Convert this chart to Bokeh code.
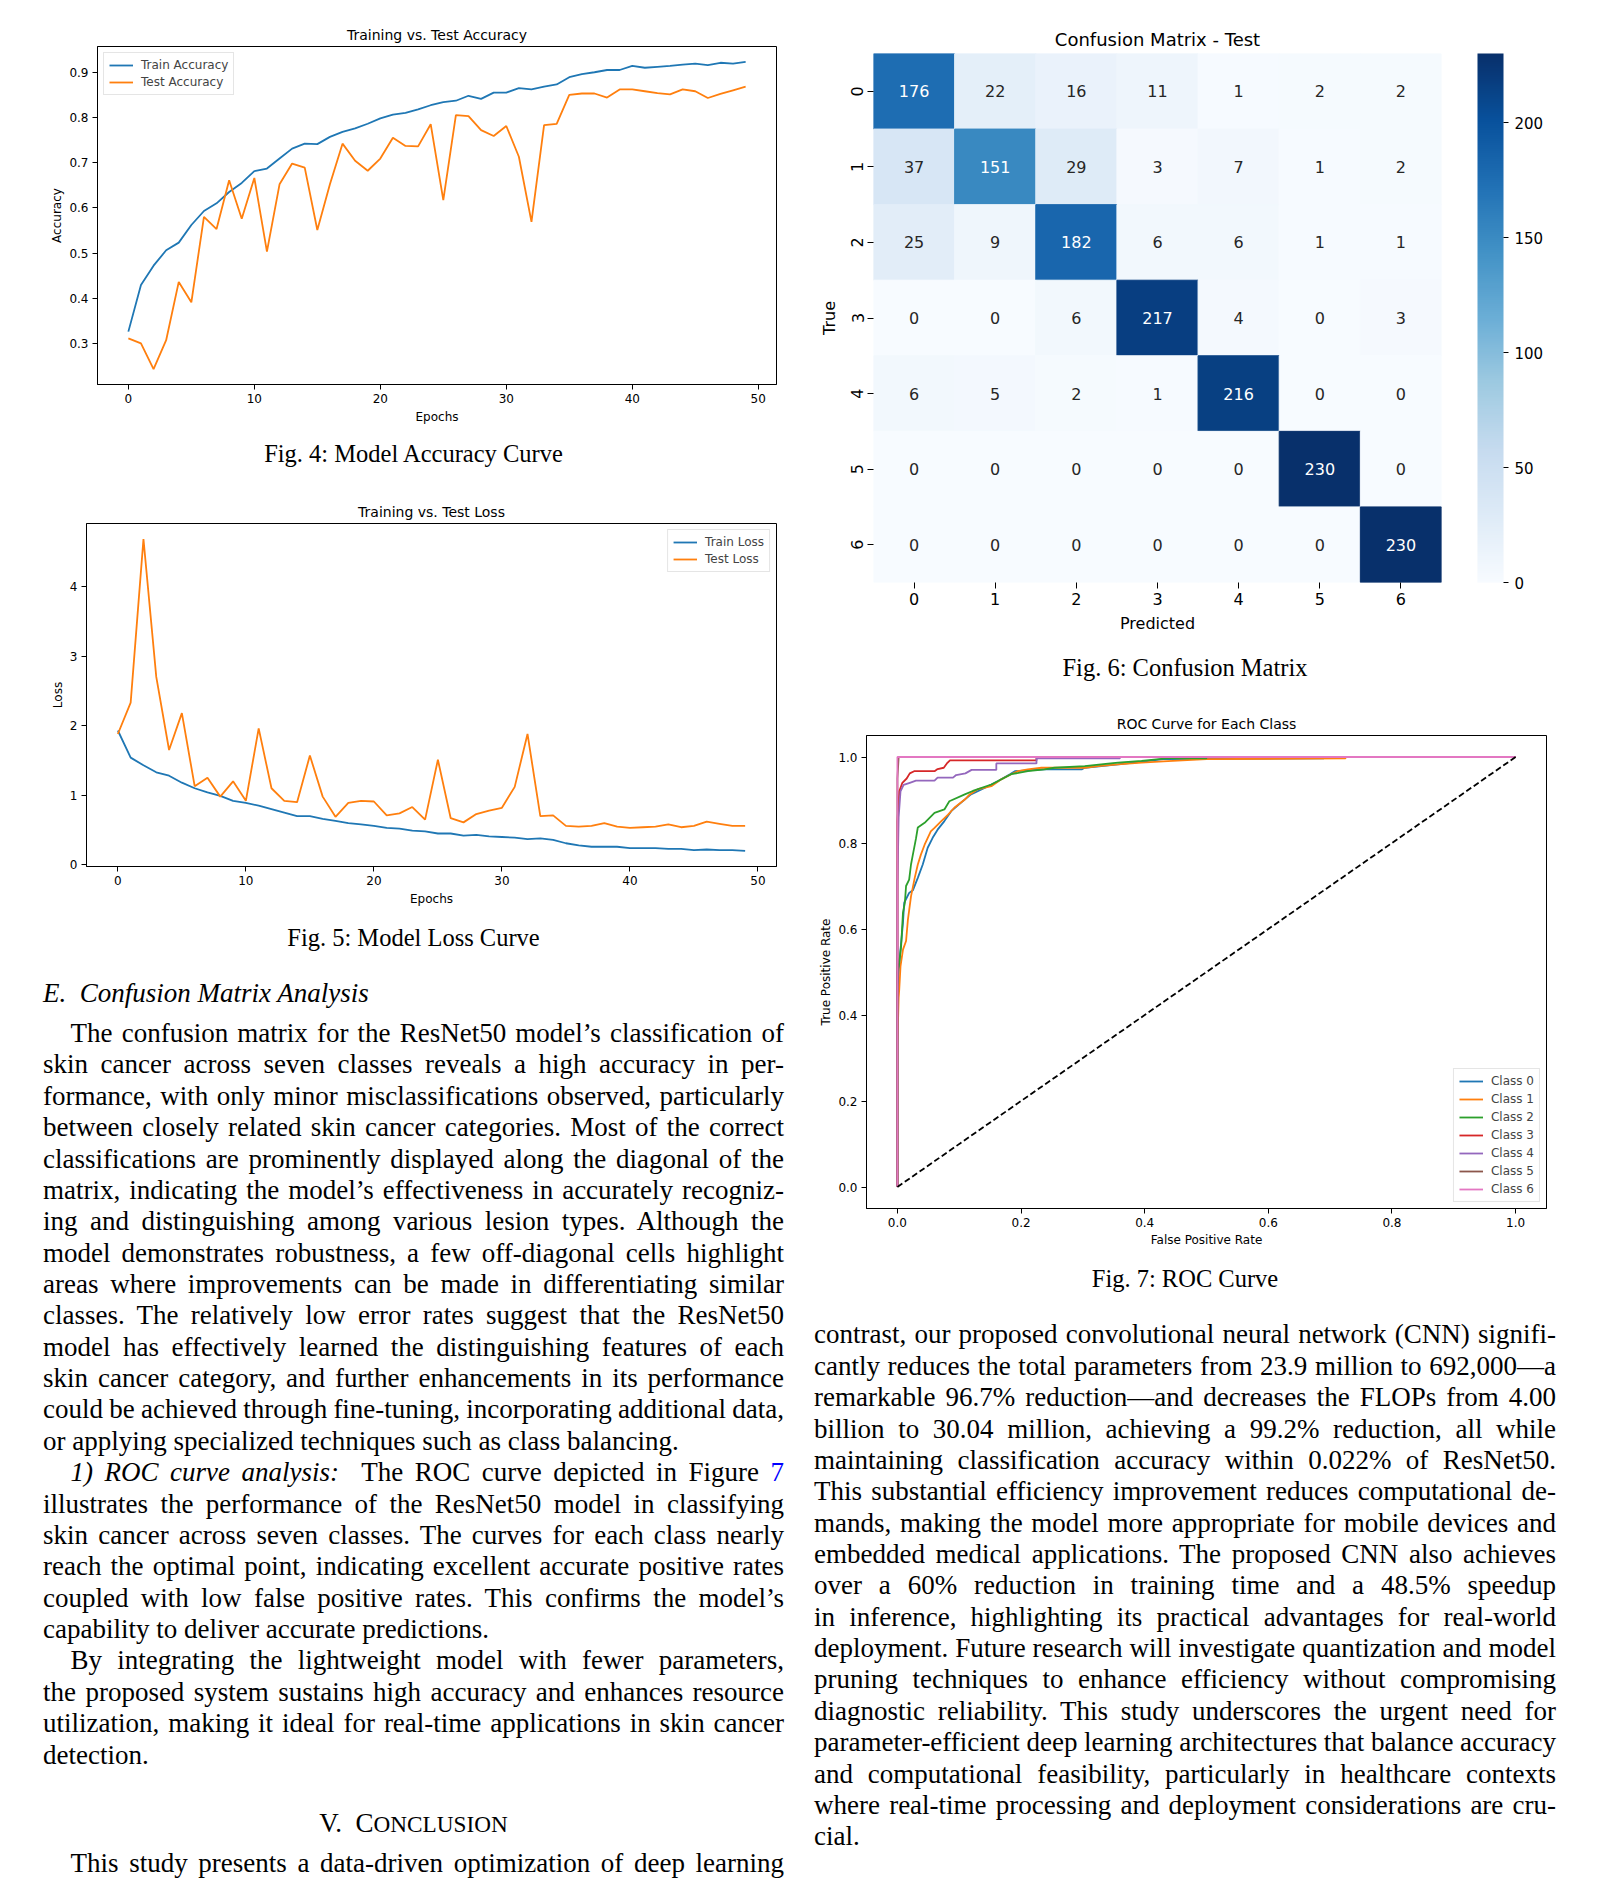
from bokeh.plotting import figure
from bokeh.models import (ColumnDataSource, Range1d, FactorRange, FixedTicker,
                          LinearColorMapper, ColorBar, Div)
from bokeh.layouts import row, column
from bokeh.palettes import Blues256
from bokeh.core.properties import value
from bokeh.embed import file_html
from bokeh.resources import INLINE

# ------------------------------------------------------------------ data
epochs = list(range(50))
train_accuracy = [0.326, 0.429, 0.472, 0.506, 0.523, 0.562, 0.593, 0.610, 0.635, 0.655,
                  0.681, 0.687, 0.709, 0.731, 0.742, 0.741, 0.757, 0.768, 0.776, 0.786,
                  0.798, 0.806, 0.810, 0.818, 0.827, 0.834, 0.837, 0.848, 0.841, 0.855,
                  0.855, 0.865, 0.862, 0.868, 0.873, 0.889, 0.896, 0.900, 0.905, 0.905,
                  0.914, 0.910, 0.912, 0.914, 0.917, 0.919, 0.916, 0.921, 0.919, 0.923]
test_accuracy = [0.311, 0.300, 0.243, 0.307, 0.436, 0.391, 0.580, 0.553, 0.661, 0.576,
                 0.666, 0.503, 0.652, 0.698, 0.689, 0.551, 0.652, 0.742, 0.704, 0.682,
                 0.709, 0.755, 0.737, 0.736, 0.785, 0.617, 0.805, 0.803, 0.772, 0.759,
                 0.781, 0.713, 0.569, 0.783, 0.786, 0.850, 0.853, 0.853, 0.844, 0.862,
                 0.862, 0.858, 0.854, 0.851, 0.862, 0.858, 0.843, 0.852, 0.860, 0.868]
train_loss = [1.93, 1.54, 1.43, 1.33, 1.28, 1.18, 1.10, 1.04, 0.99, 0.92,
              0.89, 0.85, 0.80, 0.75, 0.70, 0.70, 0.66, 0.63, 0.60, 0.58,
              0.56, 0.53, 0.52, 0.49, 0.48, 0.45, 0.45, 0.42, 0.43, 0.41,
              0.40, 0.39, 0.37, 0.38, 0.36, 0.31, 0.28, 0.26, 0.26, 0.26,
              0.24, 0.24, 0.24, 0.23, 0.23, 0.21, 0.22, 0.21, 0.21, 0.20]
test_loss = [1.88, 2.33, 4.68, 2.70, 1.65, 2.18, 1.13, 1.25, 0.98, 1.20,
             0.92, 1.96, 1.10, 0.92, 0.90, 1.57, 0.98, 0.69, 0.89, 0.92,
             0.91, 0.71, 0.74, 0.83, 0.65, 1.51, 0.67, 0.61, 0.73, 0.78,
             0.82, 1.12, 1.88, 0.70, 0.71, 0.56, 0.55, 0.56, 0.60, 0.55,
             0.53, 0.54, 0.55, 0.58, 0.54, 0.56, 0.62, 0.59, 0.56, 0.56]

cm_classes = ["0", "1", "2", "3", "4", "5", "6"]
confusion_matrix = [[176, 22, 16, 11, 1, 2, 2],
                    [37, 151, 29, 3, 7, 1, 2],
                    [25, 9, 182, 6, 6, 1, 1],
                    [0, 0, 6, 217, 4, 0, 3],
                    [6, 5, 2, 1, 216, 0, 0],
                    [0, 0, 0, 0, 0, 230, 0],
                    [0, 0, 0, 0, 0, 0, 230]]
colorbar_ticks = [0, 50, 100, 150, 200]

roc_labels = ["Class 0", "Class 1", "Class 2", "Class 3", "Class 4", "Class 5", "Class 6"]
roc_fpr_0 = [0, 0, 0.003, 0.009, 0.011, 0.019, 0.025, 0.033, 0.041, 0.049, 0.057, 0.065, 0.076,
             0.087, 0.103, 0.119, 0.141, 0.163, 0.182, 0.190, 0.238, 0.298, 0.303, 0.357,
             0.400, 0.430, 0.690, 0.690, 1.0]
roc_tpr_0 = [0, 0.45, 0.52, 0.614, 0.661, 0.684, 0.690, 0.719, 0.750, 0.789, 0.812, 0.831, 0.851,
             0.874, 0.894, 0.913, 0.928, 0.944, 0.960, 0.967, 0.971, 0.971, 0.975, 0.983,
             0.990, 0.995, 0.997, 1.0, 1.0]
roc_fpr_1 = [0, 0, 0.002, 0.003, 0.005, 0.009, 0.014, 0.017, 0.022, 0.028, 0.033, 0.038, 0.044,
             0.054, 0.060, 0.071, 0.082, 0.092, 0.109, 0.117, 0.130, 0.152, 0.168, 0.184,
             0.195, 0.211, 0.233, 0.303, 0.325, 0.357, 0.395, 0.430, 0.500, 0.725, 0.725, 1.0]
roc_tpr_1 = [0, 0.33, 0.44, 0.46, 0.513, 0.552, 0.572, 0.622, 0.676, 0.719, 0.750, 0.773, 0.796,
             0.827, 0.835, 0.851, 0.866, 0.882, 0.901, 0.913, 0.925, 0.932, 0.948, 0.960,
             0.967, 0.971, 0.975, 0.975, 0.979, 0.983, 0.987, 0.990, 0.995, 0.997, 1.0, 1.0]
roc_fpr_2 = [0, 0, 0.003, 0.006, 0.009, 0.012, 0.014, 0.019, 0.022, 0.025, 0.030, 0.033, 0.044,
             0.060, 0.076, 0.084, 0.109, 0.122, 0.152, 0.184, 0.211, 0.238, 0.254, 0.303,
             0.357, 0.395, 0.435, 0.500, 0.500, 1.0]
roc_tpr_2 = [0, 0.50, 0.521, 0.56, 0.638, 0.66, 0.70, 0.715, 0.75, 0.773, 0.81, 0.836, 0.847,
             0.870, 0.878, 0.897, 0.913, 0.921, 0.936, 0.960, 0.967, 0.971, 0.975, 0.979,
             0.987, 0.991, 0.997, 0.997, 1.0, 1.0]
roc_fpr_3 = [0, 0, 0.003, 0.008, 0.015, 0.020, 0.027, 0.060, 0.065, 0.075, 0.080, 0.085,
             0.225, 0.225, 1.0]
roc_tpr_3 = [0, 0.85, 0.92, 0.94, 0.95, 0.962, 0.967, 0.967, 0.972, 0.975, 0.985, 0.992,
             0.992, 1.0, 1.0]
roc_fpr_4 = [0, 0, 0.002, 0.005, 0.010, 0.020, 0.030, 0.060, 0.065, 0.090, 0.095, 0.110,
             0.120, 0.160, 0.160, 0.225, 0.225, 0.360, 0.360, 1.0]
roc_tpr_4 = [0, 0.70, 0.86, 0.92, 0.935, 0.94, 0.945, 0.945, 0.952, 0.952, 0.958, 0.962,
             0.970, 0.970, 0.985, 0.985, 0.997, 0.997, 1.0, 1.0]
roc_fpr_5 = [0, 0, 0.002, 1.0]
roc_tpr_5 = [0, 0.95, 1.0, 1.0]
roc_fpr_6 = [0, 0, 1.0]
roc_tpr_6 = [0, 1.0, 1.0]
chance_fpr = [0, 1]
chance_tpr = [0, 1]

# ------------------------------------------------------------------ style helpers
FONT = "DejaVu Sans"
C_BLUE, C_ORANGE = "#1f77b4", "#ff7f0e"
ROC_COLORS = ["#1f77b4", "#ff7f0e", "#2ca02c", "#d62728", "#9467bd", "#8c564b", "#e377c2"]


def style_fig(p, label_size="12px", title_size="14px"):
    p.title.text_font = FONT
    p.title.text_font_size = title_size
    p.title.text_font_style = "normal"
    p.title.align = "center"
    p.title.text_color = "black"
    p.title.standoff = 8
    for ax in p.axis:
        ax.major_label_text_font = FONT
        ax.major_label_text_font_size = label_size
        ax.major_label_text_color = "black"
        ax.axis_label_text_font = FONT
        ax.axis_label_text_font_size = label_size
        ax.axis_label_text_font_style = "normal"
        ax.axis_label_text_color = "black"
        ax.axis_line_color = "black"
        ax.major_tick_line_color = "black"
        ax.major_tick_out = 5
        ax.major_tick_in = 0
        ax.minor_tick_line_color = None
        ax.major_label_standoff = 4
    p.xaxis.axis_label_standoff = 4
    p.yaxis.axis_label_standoff = 2
    p.xgrid.visible = False
    p.ygrid.visible = False
    p.outline_line_color = "black"
    p.outline_line_width = 1
    p.background_fill_color = "white"
    p.border_fill_color = "white"


def style_legend(p, location, spacing=3):
    lg = p.legend[0]
    lg.location = location
    lg.label_text_font = FONT
    lg.label_text_font_size = "12px"
    lg.label_height = 14
    lg.glyph_height = 14
    lg.glyph_width = 24
    lg.label_standoff = 8
    lg.spacing = spacing
    lg.padding = 5
    lg.margin = 6
    lg.border_line_color = "#cccccc"
    lg.background_fill_alpha = 0.85


def pad_range(values, frac=0.05):
    lo, hi = min(values), max(values)
    d = (hi - lo) * frac
    return Range1d(lo - d, hi + d)

# ------------------------------------------------------------------ accuracy
acc = figure(width=790, height=420, output_backend="svg", toolbar_location=None,
             title="Training vs. Test Accuracy", frame_align=False,
             x_range=pad_range(epochs), y_range=pad_range(train_accuracy + test_accuracy),
             min_border_left=89, min_border_right=22, min_border_top=38, min_border_bottom=44)
acc.line(epochs, train_accuracy, color=C_BLUE, line_width=1.8, legend_label="Train Accuracy")
acc.line(epochs, test_accuracy, color=C_ORANGE, line_width=1.8, legend_label="Test Accuracy")
acc.xaxis.ticker = FixedTicker(ticks=[0, 10, 20, 30, 40, 50])
acc.yaxis.ticker = FixedTicker(ticks=[0.3, 0.4, 0.5, 0.6, 0.7, 0.8, 0.9])
acc.xaxis.axis_label = "Epochs"
acc.yaxis.axis_label = "Accuracy"
style_fig(acc)
style_legend(acc, "top_left")

# ------------------------------------------------------------------ loss
loss = figure(width=790, height=434, output_backend="svg", toolbar_location=None,
              title="Training vs. Test Loss", frame_align=False,
              x_range=pad_range(epochs), y_range=pad_range(train_loss + test_loss),
              min_border_left=78, min_border_right=22, min_border_top=45, min_border_bottom=46)
loss.line(epochs, train_loss, color=C_BLUE, line_width=1.8, legend_label="Train Loss")
loss.line(epochs, test_loss, color=C_ORANGE, line_width=1.8, legend_label="Test Loss")
loss.xaxis.ticker = FixedTicker(ticks=[0, 10, 20, 30, 40, 50])
loss.yaxis.ticker = FixedTicker(ticks=[0, 1, 2, 3, 4])
loss.xaxis.axis_label = "Epochs"
loss.yaxis.axis_label = "Loss"
style_fig(loss)
style_legend(loss, "top_right")

# ------------------------------------------------------------------ confusion matrix
cm_max = max(max(r) for r in confusion_matrix)
mapper = LinearColorMapper(palette=list(reversed(Blues256)), low=0, high=cm_max)
cx, cy, cv, ct, ctc = [], [], [], [], []
for i, true_lab in enumerate(cm_classes):
    for j, pred_lab in enumerate(cm_classes):
        v = confusion_matrix[i][j]
        cx.append(pred_lab)
        cy.append(true_lab)
        cv.append(v)
        ct.append(str(v))
        ctc.append("white" if v > 0.47 * cm_max else "#262626")
cm_src = ColumnDataSource(dict(x=cx, y=cy, v=cv, t=ct, tc=ctc))

cm = figure(width=804, height=632, output_backend="svg", toolbar_location=None,
            title="Confusion Matrix - Test", frame_align=False,
            x_range=FactorRange(factors=cm_classes),
            y_range=FactorRange(factors=list(reversed(cm_classes))),
            min_border_left=75, min_border_right=161, min_border_top=45, min_border_bottom=58)
cm.x_range.range_padding = 0
cm.y_range.range_padding = 0
cm.rect(x="x", y="y", width=1, height=1, source=cm_src,
        fill_color={"field": "v", "transform": mapper},
        line_color={"field": "v", "transform": mapper})
cm.text(x="x", y="y", text="t", source=cm_src, text_color="tc",
        text_align="center", text_baseline="middle",
        text_font=value(FONT), text_font_size="16px")
cm.xaxis.axis_label = "Predicted"
cm.yaxis.axis_label = "True"
style_fig(cm, label_size="16px", title_size="18px")
cm.outline_line_color = None
for ax in cm.axis:
    ax.axis_line_color = None
    ax.major_tick_out = 6
cm.xaxis.axis_label_standoff = 6
cm.yaxis.axis_label_standoff = 10
cm.yaxis.major_label_orientation = "vertical"
cbar = ColorBar(color_mapper=mapper, ticker=FixedTicker(ticks=colorbar_ticks),
                width=26, height=529, location=(36, 0), padding=0, margin=0,
                major_tick_in=0, major_tick_out=5, major_tick_line_color="black",
                bar_line_color=None, border_line_color=None, background_fill_color=None,
                major_label_text_font=FONT, major_label_text_font_size="15px",
                major_label_text_color="black", label_standoff=6)
cm.add_layout(cbar, "right")

# ------------------------------------------------------------------ ROC
roc = figure(width=804, height=560, output_backend="svg", toolbar_location=None,
             title="ROC Curve for Each Class", frame_align=False,
             x_range=pad_range([0, 1]), y_range=pad_range([0, 1]),
             min_border_left=68, min_border_right=56, min_border_top=40, min_border_bottom=47)
roc_fprs = [roc_fpr_0, roc_fpr_1, roc_fpr_2, roc_fpr_3, roc_fpr_4, roc_fpr_5, roc_fpr_6]
roc_tprs = [roc_tpr_0, roc_tpr_1, roc_tpr_2, roc_tpr_3, roc_tpr_4, roc_tpr_5, roc_tpr_6]
for f, t, lab, col in zip(roc_fprs, roc_tprs, roc_labels, ROC_COLORS):
    roc.line(f, t, color=col, line_width=1.8, legend_label=lab)
roc.line(chance_fpr, chance_tpr, color="black", line_width=1.8, line_dash="6 3")
ticks01 = [0.0, 0.2, 0.4, 0.6, 0.8, 1.0]
roc.xaxis.ticker = FixedTicker(ticks=ticks01)
roc.yaxis.ticker = FixedTicker(ticks=ticks01)
roc.xaxis.major_label_overrides = {t: f"{t:.1f}" for t in ticks01}
roc.yaxis.major_label_overrides = {t: f"{t:.1f}" for t in ticks01}
roc.xaxis.axis_label = "False Positive Rate"
roc.yaxis.axis_label = "True Positive Rate"
style_fig(roc)
roc.xaxis.axis_label_standoff = 3
style_legend(roc, "bottom_right", spacing=4)

# ------------------------------------------------------------------ text
LH = 31.37
SERIF = "'Liberation Serif','Times New Roman',serif"


def line_html(html, cy, left, width, align="justify", indent=0.0, size=27):
    top = cy - LH / 2
    if align == "justify":
        al = "text-align:justify;text-align-last:justify;word-spacing:-2px;"
    else:
        al = f"text-align:{align};"
    return (f'<div style="position:absolute;top:{top:.2f}px;left:{left + indent:.2f}px;'
            f'width:{width - indent:.2f}px;height:{LH}px;line-height:{LH}px;font-size:{size}px;'
            f'white-space:nowrap;{al}">{html}</div>')


def text_div(items, width, height):
    html = (f'<div style="position:relative;overflow:hidden;width:{width}px;height:{height}px;'
            f'font-family:{SERIF};color:#000;">' + "".join(items) + "</div>")
    return Div(text=html, width=width, height=height, margin=0)


IND = 27.6
CAP = 24.5
cap4 = text_div([line_html("Fig. 4: Model Accuracy Curve", 25.8, 35, 741, "center", size=CAP)], 790, 50)
cap5 = text_div([line_html("Fig. 5: Model Loss Curve", 25.7, 35, 741, "center", size=CAP)], 790, 50)
cap6 = text_div([line_html("Fig. 6: Confusion Matrix", 27.5, 16, 742, "center", size=CAP)], 804, 55)
cap7 = text_div([line_html("Fig. 7: ROC Curve", 23.6, 16, 742, "center", size=CAP)], 804, 50)

left_lines = [
    ("The confusion matrix for the ResNet50 model’s classification of", "J", IND),
    ("skin cancer across seven classes reveals a high accuracy in per-", "J", 0),
    ("formance, with only minor misclassifications observed, particularly", "J", 0),
    ("between closely related skin cancer categories. Most of the correct", "J", 0),
    ("classifications are prominently displayed along the diagonal of the", "J", 0),
    ("matrix, indicating the model’s effectiveness in accurately recogniz-", "J", 0),
    ("ing and distinguishing among various lesion types. Although the", "J", 0),
    ("model demonstrates robustness, a few off-diagonal cells highlight", "J", 0),
    ("areas where improvements can be made in differentiating similar", "J", 0),
    ("classes. The relatively low error rates suggest that the ResNet50", "J", 0),
    ("model has effectively learned the distinguishing features of each", "J", 0),
    ("skin cancer category, and further enhancements in its performance", "J", 0),
    ("could be achieved through fine-tuning, incorporating additional data,", "J", 0),
    ("or applying specialized techniques such as class balancing.", "L", 0),
    ("<i>1) ROC curve analysis:</i>&nbsp; The ROC curve depicted in Figure "
     "<span style=\"color:#0000ff\">7</span>", "J", IND),
    ("illustrates the performance of the ResNet50 model in classifying", "J", 0),
    ("skin cancer across seven classes. The curves for each class nearly", "J", 0),
    ("reach the optimal point, indicating excellent accurate positive rates", "J", 0),
    ("coupled with low false positive rates. This confirms the model’s", "J", 0),
    ("capability to deliver accurate predictions.", "L", 0),
    ("By integrating the lightweight model with fewer parameters,", "J", IND),
    ("the proposed system sustains high accuracy and enhances resource", "J", 0),
    ("utilization, making it ideal for real-time applications in skin cancer", "J", 0),
    ("detection.", "L", 0),
]
left_items = [line_html("<i>E.&nbsp; Confusion Matrix Analysis</i>", 32.0, 35, 741, "left")]
for k, (txt, mode, ind) in enumerate(left_lines):
    left_items.append(line_html(txt, 71.7 + k * LH, 35, 741,
                                "justify" if mode == "J" else "left", ind))
left_items.append(line_html("V.&nbsp; C<span style=\"font-size:0.86em\">ONCLUSION</span>",
                            861.7, 35, 741, "center"))
left_items.append(line_html("This study presents a data-driven optimization of deep learning",
                            901.4, 35, 741, "justify", IND))
left_text = text_div(left_items, 790, 918)

right_lines = [
    ("contrast, our proposed convolutional neural network (CNN) signifi-", "J"),
    ("cantly reduces the total parameters from 23.9 million to 692,000—a", "J"),
    ("remarkable 96.7% reduction—and decreases the FLOPs from 4.00", "J"),
    ("billion to 30.04 million, achieving a 99.2% reduction, all while", "J"),
    ("maintaining classification accuracy within 0.022% of ResNet50.", "J"),
    ("This substantial efficiency improvement reduces computational de-", "J"),
    ("mands, making the model more appropriate for mobile devices and", "J"),
    ("embedded medical applications. The proposed CNN also achieves", "J"),
    ("over a 60% reduction in training time and a 48.5% speedup", "J"),
    ("in inference, highlighting its practical advantages for real-world", "J"),
    ("deployment. Future research will investigate quantization and model", "J"),
    ("pruning techniques to enhance efficiency without compromising", "J"),
    ("diagnostic reliability. This study underscores the urgent need for", "J"),
    ("parameter-efficient deep learning architectures that balance accuracy", "J"),
    ("and computational feasibility, particularly in healthcare contexts", "J"),
    ("where real-time processing and deployment considerations are cru-", "J"),
    ("cial.", "L"),
]
right_items = []
for k, (txt, mode) in enumerate(right_lines):
    right_items.append(line_html(txt, 30.1 + k * LH, 16, 742,
                                 "justify" if mode == "J" else "left"))
right_text = text_div(right_items, 804, 575)

# ------------------------------------------------------------------ layout
left_col = column(acc, cap4, loss, cap5, left_text, spacing=0)
right_col = column(cm, cap6, roc, cap7, right_text, spacing=0)
page = row(left_col, right_col, spacing=0, margin=(8, 0, 0, 8))

open("out.html", "w").write(file_html(page, INLINE, "Figures"))
